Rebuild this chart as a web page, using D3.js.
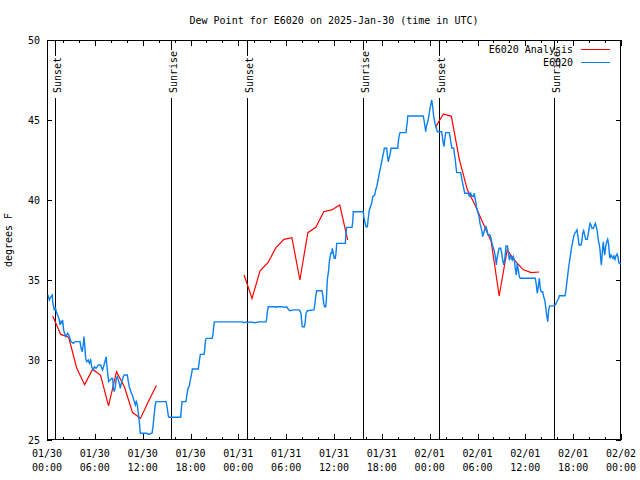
<!DOCTYPE html>
<html><head><meta charset="utf-8">
<script src="https://cdn.jsdelivr.net/npm/d3@7"></script>
<style>body{margin:0;background:#fff}svg{display:block}text{font-family:"DejaVu Sans Mono","Liberation Mono",monospace;font-size:10px;fill:#000}</style>
</head><body><svg id="c" width="640" height="480"></svg>
<script>
const titleText = "Dew Point for E6020 on 2025-Jan-30 (time in UTC)";
const yLabel = "degrees F";
const xTickHours = [0,6,12,18,24,30,36,42,48,54,60,66,72];
const xTickDates = ["01/30","01/30","01/30","01/30","01/31","01/31","01/31","01/31","02/01","02/01","02/01","02/01","02/02"];
const xTickTimes = ["00:00","06:00","12:00","18:00","00:00","06:00","12:00","18:00","00:00","06:00","12:00","18:00","00:00"];
const yTicks = [25,30,35,40,45,50];
const eventLabels = ["Sunset","Sunrise","Sunset","Sunrise","Sunset","Sunrise"];
const eventHours = [1.04,15.59,25.13,39.68,49.21,63.64];
const seriesNames = ["E6020 Analysis","E6020"];

// observations: hours since 2025-01-30 00:00 UTC, dew point (F)
const obsHours = [0.13,0.29,0.50,0.67,0.71,0.92,1.04,1.17,1.42,1.54,1.63,1.76,1.88,1.96,2.05,2.17,2.38,2.59,2.72,2.88,3.01,3.30,3.55,4.14,4.27,4.43,4.56,4.64,4.73,4.85,4.98,5.19,5.31,5.48,5.60,5.81,5.94,6.15,6.31,6.44,6.73,6.86,6.98,7.15,7.32,7.44,7.48,7.61,7.73,7.90,8.11,8.24,8.32,8.44,8.57,8.70,8.82,8.95,9.07,9.20,9.32,9.45,9.57,9.70,10.08,10.20,10.32,10.45,10.58,10.70,10.95,11.08,11.20,11.33,11.45,11.58,11.70,12.50,12.71,13.17,13.30,13.42,13.55,13.67,14.93,15.09,15.22,15.30,16.77,16.93,17.44,17.52,17.69,17.85,17.98,18.15,18.23,18.98,19.10,19.23,19.69,19.78,19.86,19.98,20.73,20.82,20.91,20.99,24.55,24.71,24.96,25.13,25.46,26.09,26.55,27.47,27.56,27.63,27.76,28.60,28.73,28.89,29.56,29.73,30.06,30.27,30.48,30.90,31.65,31.86,31.95,32.03,32.28,32.40,32.49,32.65,33.49,33.62,33.70,33.83,34.50,34.62,34.71,34.83,34.96,35.04,35.16,35.33,35.41,35.59,35.71,35.79,35.91,36.04,36.16,36.25,36.34,37.42,37.50,37.59,38.26,38.35,38.42,39.68,39.76,40.01,40.18,40.30,40.43,40.73,40.86,41.11,41.23,41.36,41.48,41.61,41.73,41.86,41.98,42.11,42.24,42.31,42.61,42.69,42.81,42.90,43.03,43.15,43.99,44.07,44.15,44.28,45.03,45.12,45.20,45.25,47.13,47.20,47.29,47.42,47.50,47.63,47.76,47.92,48.04,48.17,48.26,48.38,48.46,48.54,48.67,48.80,48.96,49.51,49.59,49.71,49.80,49.89,50.01,50.46,50.55,50.68,50.80,51.02,51.09,51.22,51.30,51.39,51.89,52.02,52.14,52.27,52.40,52.85,52.97,53.15,53.27,53.47,53.60,53.69,53.81,53.90,54.03,54.15,54.23,54.31,54.44,54.57,54.65,54.78,54.94,55.07,55.19,55.32,55.57,55.69,55.82,55.94,56.07,56.20,56.28,56.36,56.45,56.57,56.70,56.91,57.04,57.16,57.29,57.41,57.49,57.58,57.74,57.86,57.99,58.12,58.24,58.37,58.49,58.62,58.74,58.87,58.99,59.12,59.24,59.37,61.25,61.38,61.50,61.63,61.75,61.88,62.00,62.18,62.30,62.43,62.55,62.68,62.81,62.93,63.06,63.51,63.76,63.94,64.19,64.26,64.98,65.10,65.19,65.32,65.44,65.57,65.69,65.82,65.94,66.07,66.19,66.36,66.48,66.61,66.74,66.99,67.11,67.20,67.32,67.45,67.57,67.77,67.90,68.02,68.11,68.24,68.36,68.53,68.65,68.78,68.90,69.03,69.15,69.28,69.37,69.45,69.53,69.62,69.71,69.78,69.87,69.96,70.08,70.21,70.33,70.46,70.53,70.62,70.75,70.87,71.00,71.12,71.25,71.37,71.50,71.62,71.71,71.79,72.00];
const obsValues = [34.06,33.75,33.96,34.06,33.65,33.10,33.30,33.00,32.70,32.50,32.20,32.40,32.30,32.50,32.00,31.70,31.46,31.67,31.56,31.35,31.15,31.04,31.15,31.15,30.73,30.52,31.04,31.46,30.94,30.10,29.90,30.00,29.80,30.00,29.58,29.38,29.58,29.48,29.58,29.69,29.69,29.48,29.38,29.69,30.00,30.20,29.80,29.17,28.65,28.75,28.85,28.85,28.23,28.02,28.33,28.85,28.96,28.75,28.54,28.23,28.54,28.75,28.96,29.06,29.06,28.65,28.33,28.13,27.92,27.81,27.40,27.19,27.40,27.19,26.67,26.15,25.42,25.42,25.35,25.42,25.83,26.46,27.08,27.40,27.40,27.00,26.50,26.42,26.42,27.40,27.40,27.71,28.23,28.37,28.75,29.17,29.44,29.44,29.90,30.35,30.35,30.63,31.15,31.35,31.35,31.63,32.08,32.38,32.38,32.33,32.38,32.33,32.38,32.33,32.38,32.38,32.60,33.00,33.33,33.33,33.29,33.33,33.33,33.29,33.33,33.17,33.08,33.13,33.13,32.92,32.40,32.08,32.08,32.40,32.92,33.08,33.13,33.54,33.96,34.33,34.33,33.96,33.54,33.33,33.33,33.75,35.00,35.63,36.14,36.67,36.67,36.98,36.67,36.35,36.35,36.67,37.29,37.29,37.92,38.29,38.29,38.64,39.27,39.27,38.86,38.33,38.33,38.86,39.38,39.79,40.21,40.31,40.63,40.83,41.14,41.46,41.77,42.08,42.39,42.71,43.02,43.23,43.23,42.81,42.39,42.61,42.81,43.23,43.23,43.64,43.96,44.21,44.21,44.58,44.89,45.25,45.25,45.25,45.00,44.58,44.27,44.69,44.89,45.31,45.73,46.04,46.25,45.83,45.42,45.11,44.79,44.54,44.27,44.27,43.96,43.54,43.33,43.75,44.21,44.21,43.96,43.54,43.23,43.23,42.92,42.50,42.08,41.71,41.71,41.36,41.04,40.73,40.42,40.42,40.25,40.42,40.25,40.21,40.42,40.11,39.79,39.48,39.27,39.06,38.86,38.54,38.29,38.02,37.71,37.92,38.23,38.33,38.13,37.81,37.81,37.61,37.29,37.08,36.88,36.56,36.35,35.94,36.35,36.67,36.98,36.98,36.67,36.25,35.94,36.25,36.67,37.13,37.13,36.77,36.25,36.56,36.35,36.25,36.46,36.25,35.73,35.31,36.04,35.63,35.21,35.11,35.11,34.69,34.17,34.58,35.11,34.48,34.27,34.27,33.96,33.75,33.33,32.80,32.39,33.13,33.38,33.38,33.44,33.64,33.86,34.02,34.02,34.38,34.79,35.31,35.83,36.25,36.67,37.08,37.39,37.71,37.92,38.02,38.13,37.71,37.19,37.19,37.50,37.92,38.08,37.81,37.54,37.54,37.92,38.29,38.54,38.44,38.23,38.23,38.38,38.54,38.33,38.02,37.50,37.19,36.88,36.35,35.94,36.46,37.08,37.39,36.88,36.56,37.08,37.39,37.54,37.19,36.67,36.35,36.56,36.46,36.35,36.50,36.29,36.50,36.63,36.46,36.14,36.04,36.00];

// analysis: hourly values, null = gap
const anaHours = [0.72,1.72,2.72,3.72,4.72,5.72,6.72,7.72,8.72,9.72,10.72,11.72,12.72,13.72,null,24.72,25.72,26.72,27.72,28.72,29.72,30.72,31.72,32.72,33.72,34.72,35.72,36.72,37.72,null,48.72,49.72,50.72,51.72,52.72,53.72,54.72,55.72,56.72,57.72,58.72,59.72,60.72,61.72];
const anaValues = [32.75,31.6,31.42,29.5,28.46,29.42,29.04,27.13,29.27,28.31,26.73,26.35,27.4,28.4,null,35.31,33.85,35.58,36.08,37.02,37.54,37.65,35.0,37.96,38.29,39.27,39.38,39.69,37.5,null,44.54,45.38,45.23,42.54,40.65,39.65,38.52,37.4,34.0,36.88,36.19,35.65,35.46,35.5];

const W = 640, H = 480;
const m = {left:47, right:19, top:40, bottom:40};
const svg = d3.select("#c");
const x = d3.scaleLinear().domain([0,72]).range([m.left, W - m.right]);
const y = d3.scaleLinear().domain([25,50]).range([H - m.bottom, m.top]);
const x0 = x.range()[0], x1 = x.range()[1], y0 = y.range()[0], y1 = y.range()[1];
const black = "#000";

// title
svg.append("text").attr("x", (x0+x1)/2).attr("y", 24).attr("text-anchor","middle").text(titleText);
// y label
svg.append("text").attr("transform",`translate(12,${(y0+y1)/2}) rotate(-90)`).attr("text-anchor","middle").text(yLabel);

const g = svg.append("g").attr("shape-rendering","crispEdges");
// x ticks: minor every 2h, major every 6h (inward, bottom and top)
const minorHours = d3.range(0, 73, 2);
minorHours.forEach(h => {
  const major = xTickHours.includes(h);
  const len = major ? 6 : 3;
  const xx = Math.round(x(h)) + 0.5;
  g.append("line").attr("x1",xx).attr("x2",xx).attr("y1",y0).attr("y2",y0-len).attr("stroke",black);
  g.append("line").attr("x1",xx).attr("x2",xx).attr("y1",y1).attr("y2",y1+len).attr("stroke",black);
});
yTicks.forEach(v => {
  const yy = Math.round(y(v)) + 0.5;
  g.append("line").attr("x1",x0).attr("x2",x0+5).attr("y1",yy).attr("y2",yy).attr("stroke",black);
  g.append("line").attr("x1",x1).attr("x2",x1-5).attr("y1",yy).attr("y2",yy).attr("stroke",black);
  svg.append("text").attr("x", x0-7).attr("y", yy+3.5).attr("text-anchor","end").text(v);
});
xTickHours.forEach((h,i) => {
  const t = svg.append("text").attr("text-anchor","middle");
  t.append("tspan").attr("x", x(h)).attr("y", 457).text(xTickDates[i]);
  t.append("tspan").attr("x", x(h)).attr("y", 471).text(xTickTimes[i]);
});

// sunrise / sunset lines
eventHours.forEach((h,i) => {
  const xx = Math.round(x(h)) + 0.5;
  g.append("line").attr("x1",xx).attr("x2",xx).attr("y1",y1).attr("y2",y0).attr("stroke",black);
});
eventHours.forEach((h,i) => {
  const xx = Math.round(x(h)) + 0.5;
  const len = eventLabels[i].length * 6.02;
  svg.append("rect").attr("x", xx-3).attr("y", 93 - len - 1).attr("width", 9).attr("height", len + 6).attr("fill","#fff");
  svg.append("text").attr("transform",`translate(${xx+5},93) rotate(-90)`).attr("text-anchor","start").text(eventLabels[i]);
});

// frame
g.append("rect").attr("x", x0+0.5).attr("y", y1+0.5).attr("width", x1-x0-1).attr("height", y0-y1-1).attr("fill","none").attr("stroke",black);

const red = "#ff0000", blue = "#0a80f0";
const obs = obsHours.map((h,i) => ({h, v: obsValues[i]}));
const ana = anaHours.map((h,i) => ({h, v: anaValues[i]}));
const line = d3.line().defined(d => d.h !== null && d.v !== null).x(d => x(d.h)).y(d => y(d.v));
svg.append("path").datum(ana).attr("d", line).attr("fill","none").attr("stroke", red).attr("stroke-width",1.2);
svg.append("path").datum(obs).attr("d", line).attr("fill","none").attr("stroke", blue).attr("stroke-width",1.4);

// legend
const legColors = [red, blue];
seriesNames.forEach((n,i) => {
  const ly = 49.5 + i*13;
  svg.append("text").attr("x", 573).attr("y", ly+3.5).attr("text-anchor","end").text(n);
  svg.append("line").attr("x1",581).attr("x2",610).attr("y1",ly).attr("y2",ly).attr("stroke",legColors[i]).attr("stroke-width",1.2).attr("shape-rendering","crispEdges");
});
</script></body></html>
